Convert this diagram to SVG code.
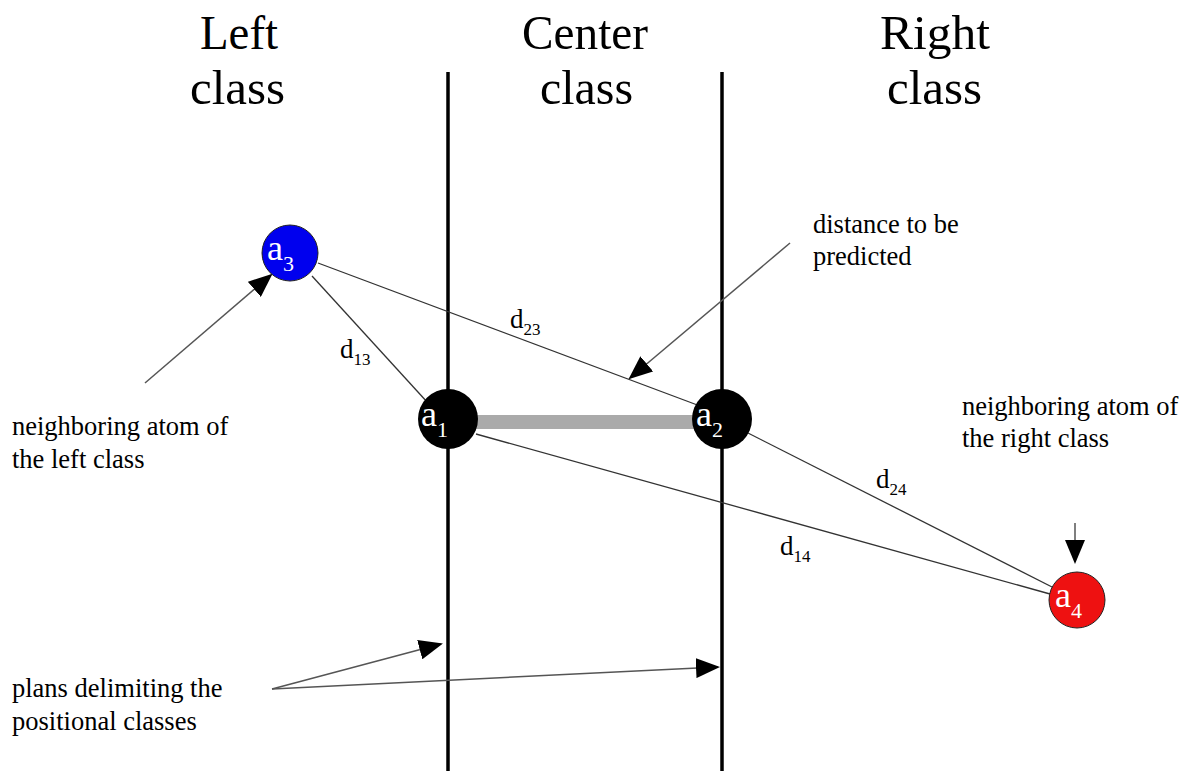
<svg xmlns="http://www.w3.org/2000/svg" width="1186" height="771" viewBox="0 0 1186 771">
<style>
text{font-family:"Liberation Serif","Times New Roman",serif;fill:#000}
.title{font-size:49px}
.note{font-size:26.5px}
.lbl{font-size:36px;fill:#fff}
.lsub{font-size:22px}
.sub{font-size:17px}
.d{font-size:27px}
.conn{stroke:#333;stroke-width:1.3;fill:none}
.arr{stroke:#555;stroke-width:1.5;fill:none;marker-end:url(#ah)}
.plane{stroke:#000;stroke-width:3.5}
</style>
<defs>
<marker id="ah" markerUnits="userSpaceOnUse" markerWidth="24" markerHeight="20" viewBox="0 0 24 20" refX="22" refY="10" orient="auto">
<path d="M0,0 L24,10 L0,20 Z" fill="#000"/>
</marker>
</defs>
<g id="titles">
<text class="title" x="200" y="49" textLength="78" lengthAdjust="spacingAndGlyphs">Left</text>
<text class="title" x="190" y="104" textLength="95" lengthAdjust="spacingAndGlyphs">class</text>
<text class="title" x="522" y="49" textLength="126" lengthAdjust="spacingAndGlyphs">Center</text>
<text class="title" x="540" y="104" textLength="93" lengthAdjust="spacingAndGlyphs">class</text>
<text class="title" x="880" y="49" textLength="110" lengthAdjust="spacingAndGlyphs">Right</text>
<text class="title" x="887" y="104" textLength="95" lengthAdjust="spacingAndGlyphs">class</text>
</g>
<g id="planes">
<line class="plane" x1="448" y1="72" x2="448" y2="771"/>
<line class="plane" x1="722" y1="72" x2="722" y2="771"/>
</g>
<g id="connectors">
<line x1="448" y1="422" x2="722" y2="422" stroke="#aaa" stroke-width="14"/>
<line class="conn" x1="312" y1="276" x2="428" y2="403"/>
<line class="conn" x1="318" y1="263" x2="700" y2="406"/>
<line class="conn" x1="476" y1="434" x2="1050" y2="594"/>
<line class="conn" x1="746" y1="432" x2="1054" y2="588"/>
<line class="arr" x1="145" y1="383" x2="271" y2="275"/>
<line class="arr" x1="790" y1="243" x2="630" y2="378"/>
<line class="arr" x1="1075" y1="523" x2="1075" y2="562"/>
<line class="arr" x1="272" y1="689" x2="441" y2="644"/>
<line class="arr" x1="272" y1="689" x2="718" y2="667"/>
</g>
<g id="a3">
<circle cx="290" cy="253" r="28" fill="#0000ee" stroke="#222" stroke-width="1"/>
<text class="lbl" x="267" y="260">a<tspan class="lsub" dy="11">3</tspan></text>
</g>
<g id="a1">
<circle cx="448" cy="419" r="30" fill="#000"/>
<text class="lbl" x="421" y="426">a<tspan class="lsub" dy="11">1</tspan></text>
</g>
<g id="a2">
<circle cx="722" cy="419" r="30" fill="#000"/>
<text class="lbl" x="696" y="426">a<tspan class="lsub" dy="11">2</tspan></text>
</g>
<g id="a4">
<circle cx="1077" cy="600" r="28" fill="#ee1111" stroke="#222" stroke-width="1"/>
<text class="lbl" x="1055" y="607">a<tspan class="lsub" dy="11">4</tspan></text>
</g>
<g id="distances">
<text class="d" x="340" y="358">d<tspan class="sub" dy="7">13</tspan></text>
<text class="d" x="510" y="328">d<tspan class="sub" dy="7">23</tspan></text>
<text class="d" x="876" y="488">d<tspan class="sub" dy="7">24</tspan></text>
<text class="d" x="780" y="555">d<tspan class="sub" dy="7">14</tspan></text>
</g>
<g id="notes">
<text class="note" x="12" y="435">neighboring atom of</text>
<text class="note" x="12" y="468">the left class</text>
<text class="note" x="813" y="233">distance to be</text>
<text class="note" x="813" y="265">predicted</text>
<text class="note" x="962" y="415">neighboring atom of</text>
<text class="note" x="962" y="447">the right class</text>
<text class="note" x="12" y="697">plans delimiting the</text>
<text class="note" x="12" y="730">positional classes</text>
</g>
</svg>
